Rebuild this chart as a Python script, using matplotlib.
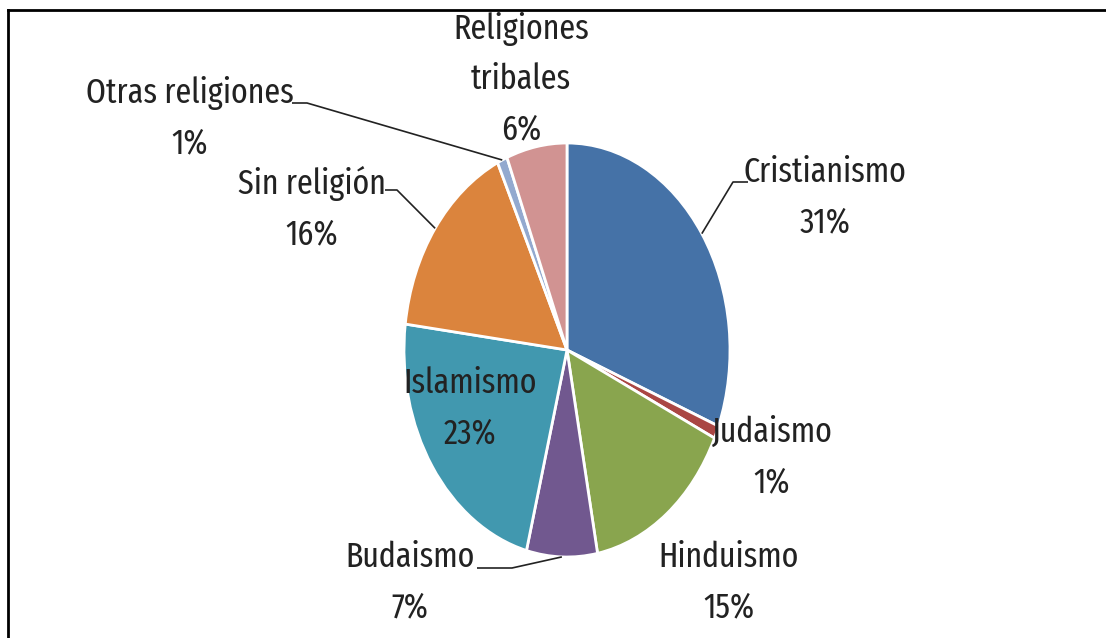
import matplotlib
matplotlib.use("Agg")
import matplotlib.pyplot as plt
from matplotlib import font_manager as fm
import numpy as np

# data
categories = ["Cristianismo", "Judaismo", "Hinduismo", "Budaismo", "Islamismo",
              "Sin religión", "Otras religiones", "Religiones\ntribales"]
shares = [31, 1, 15, 7, 23, 16, 1, 6]
colors = ["#4572A7", "#AA4643", "#89A54E", "#71588F", "#4198AF",
          "#DB843D", "#93A9CF", "#D19392"]

W, H = 1106, 638
CX, CY, RX, RY = 567, 350, 163, 207  # pie centre / radii in pixels (stretched ellipse)


def px(x, y):
    """pixel position -> data coords (pie is a unit circle in data space)"""
    return (x - CX) / RX, (CY - y) / RY


# the source image is squashed horizontally, so a narrow font fits best
installed = {f.name for f in fm.fontManager.ttflist}
for cand in ["Fira Sans Extra Condensed", "Fira Sans Condensed", "PT Sans Narrow",
             "Archivo Narrow", "Roboto Condensed", "Liberation Sans Narrow"]:
    if cand in installed:
        font = cand
        break
else:
    font = "DejaVu Sans"
plt.rcParams["font.family"] = [font, "DejaVu Sans"]

fig = plt.figure(figsize=(W / 100, H / 100), dpi=100)
ax = fig.add_axes([0, 0, 1, 1])
wedges, _ = ax.pie(shares, colors=colors, startangle=90, counterclock=False,
                   radius=1, wedgeprops=dict(edgecolor="white", linewidth=2))
ax.set_aspect("auto")
ax.set_xlim(px(0, 0)[0], px(W, 0)[0])
ax.set_ylim(px(0, H)[1], px(0, 0)[1])
ax.axis("off")

# label block centres (pixels) and optional leader elbows (start, elbow)
label_pos = {
    0: (825, 197), 1: (772, 457), 2: (729, 582), 3: (410, 582),
    4: (470, 408), 5: (312, 209), 6: (190, 118), 7: (521, 79),
}
leaders = {
    0: [(748, 182), (733, 182)],
    3: [(477, 568), (512, 568)],
    5: [(385, 190), (397, 190)],
    6: [(292, 103), (307, 103)],
}

for i, (name, val) in enumerate(zip(categories, shares)):
    x, y = px(*label_pos[i])
    ax.text(x, y, f"{name}\n{val}%", ha="center", va="center",
            fontsize=25, color="#222222", linespacing=1.6)
    if i in leaders:
        w = wedges[i]
        mid = np.deg2rad((w.theta1 + w.theta2) / 2)
        pts = [px(*p) for p in leaders[i]] + [(np.cos(mid), np.sin(mid))]
        xs, ys = zip(*pts)
        ax.plot(xs, ys, color="#222222", lw=1.2, solid_capstyle="butt")

# outer frame: top and left edges only
fig.add_artist(plt.Line2D([8 / W, 1], [1 - 10 / H, 1 - 10 / H], transform=fig.transFigure,
                          color="black", lw=2))
fig.add_artist(plt.Line2D([8 / W, 8 / W], [0, 1 - 10 / H], transform=fig.transFigure,
                          color="black", lw=2))

fig.savefig("out.png", dpi=100)
